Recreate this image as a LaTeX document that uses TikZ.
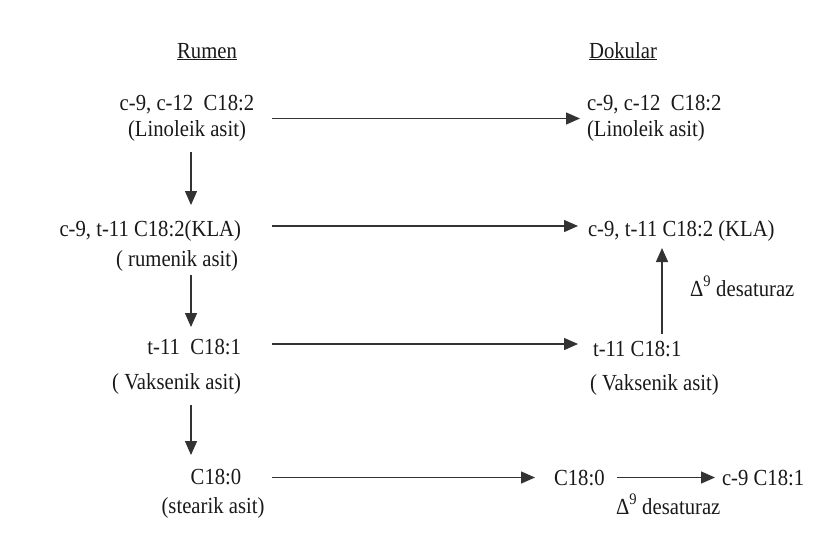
\documentclass[tikz,border=0pt]{standalone}
\usepackage{fontspec}
\setmainfont{Liberation Serif}[FakeStretch=0.9]
\usetikzlibrary{arrows.meta}
\tikzset{
  >={Triangle[length=14pt,width=12pt]},
  txt/.style={inner sep=0pt,outer sep=0pt,text height=16pt,text depth=1pt,text=black!90},
  pair/.style={inner sep=0pt,outer sep=0pt,align=center,text=black!90},
  arr/.style={->,draw=black!80,line width=1.4pt},
}
\begin{document}
\begin{tikzpicture}[x=1pt,y=-1pt,every node/.style={font=\fontsize{23}{26}\selectfont}]
\useasboundingbox (0,0) rectangle (830,546);
% column heads
\node[txt,anchor=base] (rumen) at (207,58) {\underline{Rumen}};
\node[txt,anchor=base] (dok) at (623,58) {\underline{Dokular}};
% rumen column
\node[pair] (linL) at (187,118.5) {c-9, c-12~~C18:2\\(Linoleik asit)};
\node[txt,anchor=base east] (klaL) at (241,236) {c-9, t-11 C18:2(KLA)};
\node[txt,anchor=base east] (rumL) at (238,266) {( rumenik asit)};
\node[txt,anchor=base east] (vaksL) at (241,354) {t-11~~C18:1};
\node[txt,anchor=base east] (vaksLn) at (241,389) {( Vaksenik asit)};
\node[txt,anchor=base] (stearL) at (216,484) {C18:0};
\node[txt,anchor=base] (stearLn) at (213,513) {(stearik asit)};
% tissue column
\node[pair,align=left,anchor=west] (linR) at (587,118.5) {c-9, c-12~~C18:2\\(Linoleik asit)};
\node[txt,anchor=base west] (klaR) at (588,236) {c-9, t-11 C18:2 (KLA)};
\node[txt,anchor=base west] (vaksR) at (593,356) {t-11 C18:1};
\node[txt,anchor=base west] (vaksRn) at (590,390) {( Vaksenik asit)};
\node[txt,anchor=base west] (stearR) at (554,485) {C18:0};
\node[txt,anchor=base west] (oleR) at (722,485) {c-9 C18:1};
\node[txt,anchor=base west] (desA) at (690,296) {Δ\textsuperscript{9} desaturaz};
\node[txt,anchor=base west] (desB) at (616,514) {Δ\textsuperscript{9} desaturaz};
% arrow columns
\coordinate (hx) at (272,0);
\coordinate (vx) at (191,0);
\coordinate (ux) at (662,0);
\coordinate (klaIn) at ([yshift=2.5pt]klaR.west);
\coordinate (vaksIn) at ([yshift=4.5pt]vaksR.west);
% transfer rumen -> tissue
\draw[arr,shorten >=7pt] (linR.west -| hx) -- (linR.west);
\draw[arr,shorten >=10pt] (klaIn -| hx) -- (klaIn);
\draw[arr,shorten >=15pt] (vaksIn -| hx) -- (vaksIn);
\draw[arr,shorten >=19pt] (stearR.west -| hx) -- (stearR.west);
% biohydrogenation
\draw[arr,shorten <=10pt,shorten >=15pt] (linL.south -| vx) -- (klaL.north -| vx);
\draw[arr,shorten <=8pt,shorten >=11pt] (rumL.south -| vx) -- (vaksL.north -| vx);
\draw[arr,shorten <=15pt,shorten >=13pt] (vaksLn.south -| vx) -- (stearL.north -| vx);
% desaturation
\draw[arr,shorten <=6pt,shorten >=11pt] (vaksR.north -| ux) -- (klaR.south -| ux);
\draw[arr,shorten <=12pt,shorten >=7pt] (stearR.east) -- (oleR.west);
\end{tikzpicture}
\end{document}
